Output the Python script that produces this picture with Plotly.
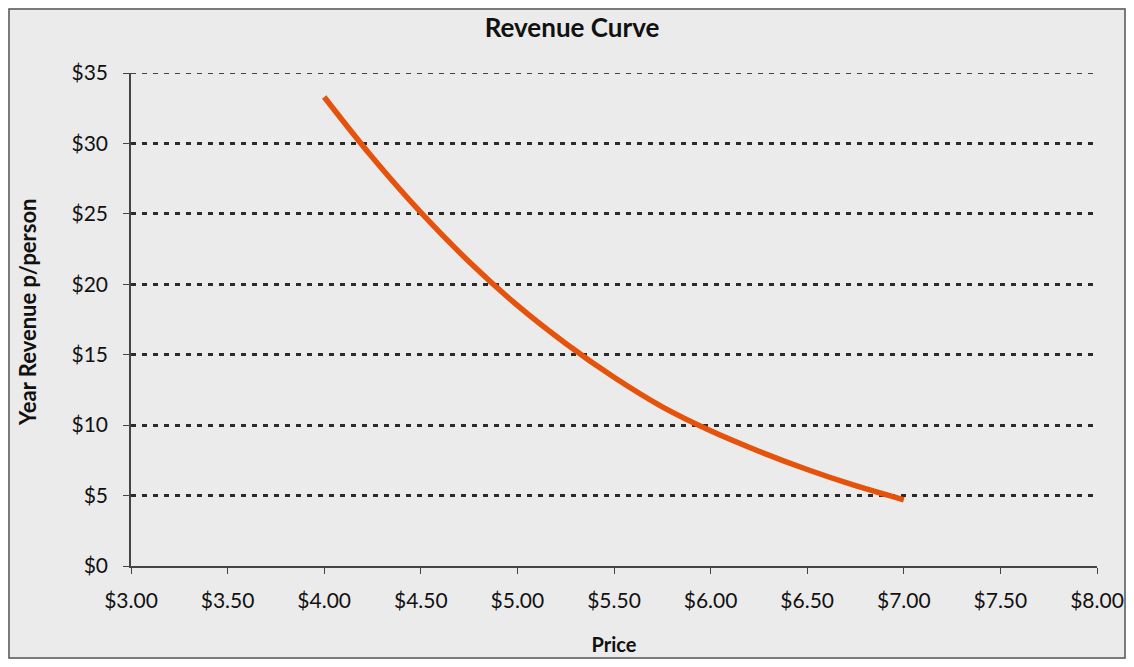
import plotly.graph_objects as go

# revenue per person at each price
price = [4.00, 4.25, 4.50, 4.75, 5.00, 5.25, 5.50, 5.75, 6.00, 6.25, 6.50, 6.75, 7.00]
revenue = [33.3, 29.0, 25.1, 21.6, 18.5, 15.8, 13.4, 11.3, 9.6, 8.15, 6.85, 5.7, 4.7]

x_ticks = [3.0, 3.5, 4.0, 4.5, 5.0, 5.5, 6.0, 6.5, 7.0, 7.5, 8.0]
y_ticks = [0, 5, 10, 15, 20, 25, 30, 35]
x_labels = ["$%.2f" % v for v in x_ticks]
y_labels = ["$%d" % v for v in y_ticks]

# page body has an 8px margin, so the figure is 16px smaller than the window
W, H = 1118, 651
ml, mr, mt, mb = 123, 29, 65, 93
pw, ph = W - ml - mr, H - mt - mb

font = "Lato, 'Open Sans', sans-serif"

fig = go.Figure()
fig.add_scatter(
    x=price,
    y=revenue,
    mode="lines",
    line=dict(color="#e5520c", width=5.5, shape="spline"),
    showlegend=False,
)

# chart frame around the whole figure
fig.add_shape(
    type="rect",
    xref="paper", yref="paper",
    x0=(1 - ml) / pw, x1=(W - 1 - ml) / pw,
    y0=-(mb - 1) / ph, y1=(H - mb - 1) / ph,
    line=dict(color="#555555", width=1.5),
    fillcolor="rgba(0,0,0,0)",
    layer="below",
)

# top gridline sits on the range edge, plotly skips it
fig.add_shape(
    type="line",
    xref="paper", yref="y",
    x0=0, x1=1, y0=y_ticks[-1], y1=y_ticks[-1],
    line=dict(color="#444444", width=2, dash="5px,6px"),
    layer="below",
)

fig.add_annotation(
    text="<b>Year Revenue p/person</b>",
    textangle=-90,
    xref="paper", yref="paper",
    x=(27 - 8 - ml) / pw, y=(H - mb - (312 - 8)) / ph,
    xanchor="center", yanchor="middle",
    showarrow=False,
    font=dict(size=22, color="#111111"),
)

fig.update_layout(
    width=W,
    height=H,
    margin=dict(l=ml, r=mr, t=mt, b=mb),
    paper_bgcolor="#ebebeb",
    plot_bgcolor="rgba(0,0,0,0)",
    font=dict(family=font, size=21, color="#111111"),
    title=dict(
        text="<b>Revenue Curve</b>",
        x=564 / W, xref="container", xanchor="center",
        y=1 - 20 / H, yref="container", yanchor="middle",
        font=dict(size=26, color="#111111"),
    ),
    xaxis=dict(
        range=[3, 8],
        tickmode="array",
        tickvals=x_ticks,
        ticktext=x_labels,
        showgrid=False,
        zeroline=False,
        showline=True,
        linecolor="#444444",
        linewidth=1.5,
        ticks="outside",
        ticklen=6,
        tickcolor="#444444",
        ticklabelstandoff=9,
        title=dict(text="<b>Price</b>", font=dict(size=20), standoff=27),
        automargin=False,
        fixedrange=True,
    ),
    yaxis=dict(
        range=[0, 35],
        tickmode="array",
        tickvals=y_ticks,
        ticktext=y_labels,
        showgrid=True,
        gridcolor="#2b2b2b",
        gridwidth=2.5,
        griddash="5px,6px",
        zeroline=False,
        showline=True,
        linecolor="#444444",
        linewidth=1.5,
        ticks="outside",
        ticklen=6,
        tickcolor="#444444",
        ticklabelstandoff=11,
        automargin=False,
        fixedrange=True,
    ),
)

fig.write_html("out.html")
